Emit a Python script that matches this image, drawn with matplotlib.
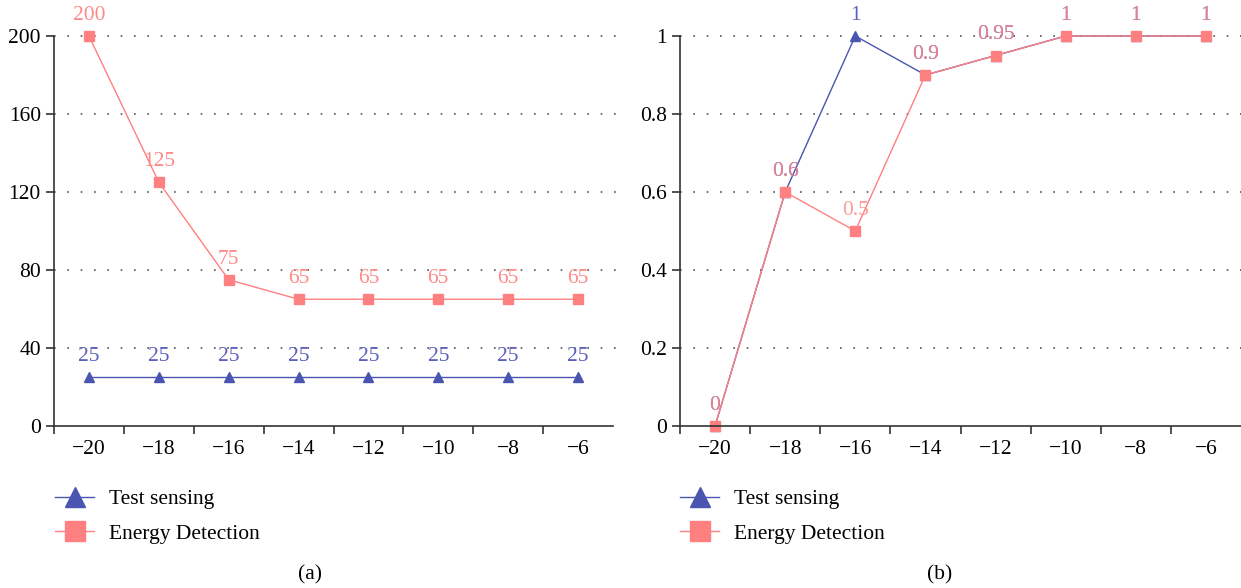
import numpy as np
import matplotlib.pyplot as plt
from matplotlib.lines import Line2D

plt.rcParams['font.family'] = ['Liberation Serif', 'DejaVu Serif']

snr = [-20, -18, -16, -14, -12, -10, -8, -6]

# (a)
test_a = [25, 25, 25, 25, 25, 25, 25, 25]
energy_a = [200, 125, 75, 65, 65, 65, 65, 65]

# (b)
test_b = [0, 0.6, 1, 0.9, 0.95, 1, 1, 1]
energy_b = [0, 0.6, 0.5, 0.9, 0.95, 1, 1, 1]

blue = '#4a55b0'
pink = '#ff8080'
blue_txt = '#5b60bb'
pink_txt = '#ff8a8a'

fig = plt.figure(figsize=(12.41, 5.88), dpi=100)
ax1 = fig.add_axes([54/1241, 162/588, 559/1241, 390/588])
ax2 = fig.add_axes([680/1241, 162/588, 561/1241, 390/588])


def style(ax, ymax, yticks, ylabels):
	ax.set_xlim(-21, -5)
	ax.set_ylim(0, ymax)
	for s in ['top', 'right']:
		ax.spines[s].set_visible(False)
	for s in ['left', 'bottom']:
		ax.spines[s].set_color('#333333')
		ax.spines[s].set_linewidth(1.2)
	ax.set_xticks(np.arange(-21, -6, 2))
	ax.set_xticklabels([])
	ax.set_xticks(snr, minor=True)
	ax.set_xticklabels(['\u2212' + str(-v) for v in snr], minor=True)
	ax.tick_params(axis='x', which='major', length=6, width=1.2, color='#333333')
	ax.tick_params(axis='x', which='minor', length=0, pad=10, labelsize=15.5)
	ax.set_yticks(yticks)
	ax.set_yticklabels(ylabels)
	ax.tick_params(axis='y', length=6, width=1.2, color='#333333', labelsize=15.5)
	for t in yticks[1:]:
		ax.plot([-21, -4.8], [t, t], color='#555555', linestyle=(0, (1, 7)),
			linewidth=1.2, zorder=0, clip_on=False)


style(ax1, 200, [0, 40, 80, 120, 160, 200], ['0', '40', '80', '120', '160', '200'])
style(ax2, 1, [0, 0.2, 0.4, 0.6, 0.8, 1], ['0', '0.2', '0.4', '0.6', '0.8', '1'])

# panel a
ax1.plot(snr, test_a, color=blue, marker='^', markersize=7, linewidth=1, clip_on=False)
ax1.plot(snr, energy_a, color=pink, marker='s', markersize=7, linewidth=1, clip_on=False)
for x, y in zip(snr, test_a):
	ax1.annotate(str(y), (x, y), xytext=(0, 8), textcoords='offset points',
		ha='center', va='bottom', color=blue_txt, fontsize=15.5)
for x, y in zip(snr, energy_a):
	ax1.annotate(str(y), (x, y), xytext=(0, 8), textcoords='offset points',
		ha='center', va='bottom', color=pink_txt, fontsize=15.5)

# panel b
def fmt(v):
	return ('%g' % v)

ax2.plot(snr, test_b, color=blue, marker='^', markersize=7, linewidth=1, clip_on=False)
ax2.plot(snr, energy_b, color=pink, marker='s', markersize=7, linewidth=1, clip_on=False)
for x, y in zip(snr, test_b):
	ax2.annotate(fmt(y), (x, y), xytext=(0, 8), textcoords='offset points',
		ha='center', va='bottom', color=blue_txt, fontsize=15.5)
for x, y in zip(snr, energy_b):
	ax2.annotate(fmt(y), (x, y), xytext=(0, 8), textcoords='offset points',
		ha='center', va='bottom', color=pink_txt, fontsize=15.5, alpha=0.85)

handles = [
	Line2D([], [], color=blue, marker='^', markersize=14, linewidth=1),
	Line2D([], [], color=pink, marker='s', markersize=14, linewidth=1),
]
names = ['Test sensing', 'Energy Detection']
for x0 in [36, 661]:
	fig.legend(handles, names, loc='upper left', bbox_to_anchor=(x0/1241, 1 - 470/588),
		frameon=False, fontsize=15.5, handlelength=1.8, labelspacing=0.65,
		handletextpad=0.7)

fig.text(310/1241, 1 - 575/588, '(a)', ha='center', va='center', fontsize=15.5)
fig.text(940/1241, 1 - 575/588, '(b)', ha='center', va='center', fontsize=15.5)

plt.savefig('out.png', dpi=100)
